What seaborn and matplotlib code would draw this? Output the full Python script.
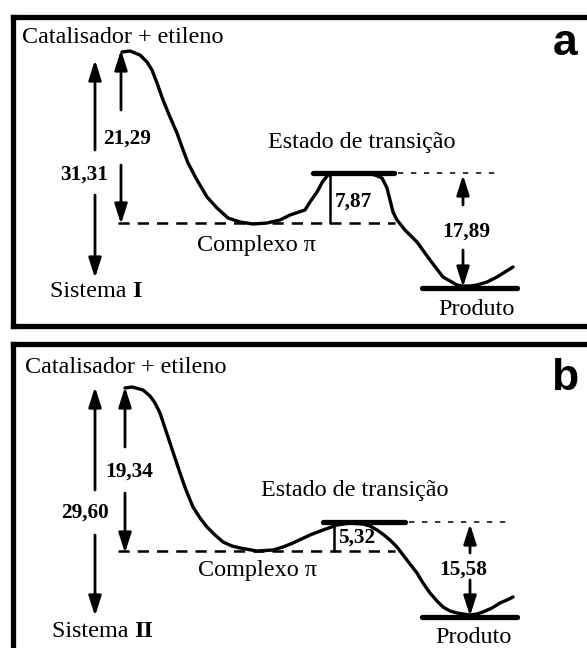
import matplotlib
matplotlib.use("Agg")
import matplotlib.pyplot as plt
import seaborn as sns
import numpy as np

# energy gaps (kcal/mol) shown on each diagram
barrier_a = {"complexo": 21.29, "total": 31.31, "ts": 7.87, "produto": 17.89}
barrier_b = {"complexo": 19.34, "total": 29.60, "ts": 5.32, "produto": 15.58}

state_labels = ["Catalisador + etileno", "Complexo \u03c0", "Estado de transi\u00e7\u00e3o", "Produto"]
system_names = ["I", "II"]
panel_tags = ["a", "b"]

# schematic reaction profile (image coordinates)
profile_a_x = [122, 130, 140, 147, 152, 157, 163, 170, 177, 182, 188, 197, 207, 217, 228, 240,
               253, 267, 280, 290, 305, 310, 317, 323, 328, 335, 345, 360, 370, 375, 382, 387,
               390, 393, 397, 405, 417, 430, 443, 457, 463, 470, 477, 487, 497, 505, 513]
profile_a_y = [52, 51, 55, 62, 70, 83, 100, 117, 133, 147, 163, 180, 197, 208, 218, 222,
               224, 223, 220, 215, 210, 202, 192, 181, 175, 173, 173, 173, 174, 175, 178, 188,
               200, 212, 220, 230, 242, 260, 277, 285, 286, 286, 285, 282, 277, 272, 267]

profile_b_x = [125, 132, 143, 150, 155, 160, 165, 170, 175, 180, 186, 193, 200, 207, 215, 223,
               232, 240, 257, 273, 283, 293, 310, 323, 337, 350, 363, 370, 377, 384, 390, 397,
               403, 410, 417, 423, 430, 437, 443, 450, 457, 463, 470, 477, 483, 492, 500, 507, 513]
profile_b_y = [388, 387, 390, 396, 403, 413, 428, 443, 458, 473, 490, 507, 518, 527, 535, 542,
               546, 548, 551, 550, 547, 543, 535, 530, 525, 523, 524, 526, 530, 535, 540, 547,
               555, 564, 573, 583, 593, 601, 607, 611, 613, 614, 615, 614, 612, 608, 603, 600, 597]


def fmt(v):
    return f"{v:.2f}".replace(".", ",")


def arrow(ax, x, y_tail, y_head):
    ax.annotate("", xy=(x, y_head), xytext=(x, y_tail),
                arrowprops=dict(arrowstyle="-|>,head_length=1.0,head_width=0.32",
                                mutation_scale=12, lw=2, color="black",
                                shrinkA=0, shrinkB=0))


sns.set_theme(style="white")
plt.rcParams["font.family"] = ["Liberation Serif", "DejaVu Serif"]

fig = plt.figure(figsize=(5.87, 6.48), dpi=100)
ax = fig.add_axes([0, 0, 1, 1])
ax.set_xlim(0, 587)
ax.set_ylim(648, 0)
ax.axis("off")

serif = dict(family=["Liberation Serif", "DejaVu Serif"], fontsize=17.4, color="black")
num = dict(family=["Liberation Serif", "DejaVu Serif"], fontsize=15.3, fontweight="bold", color="black")

# layout of each panel (image coordinates)
layout = [
    dict(frame_top=17, frame_bottom=326, cplx=223, ts=173, prod=288,
         ts_bar=(313, 394), ts_vline=330, prod_bar=(422, 517), ts_dot_end=500, arrow_x=463,
         cat_xy=(22, 43), sys_xy=(50, 297), cplx_xy=(197, 251), ts_xy=(268, 148), prod_xy=(438, 315),
         tag_y=55,
         big=dict(x=95, up=(150, 60), lab=(84, 180), down=(195, 278)),
         small=dict(x=121, up=(110, 50), lab=(127, 144), down=(165, 224)),
         ts_lab=(335, 207), pr=dict(up=(205, 175), lab=(466, 237), down=(250, 287))),
    dict(frame_top=344, frame_bottom=None, cplx=551, ts=522, prod=617,
         ts_bar=(323, 405), ts_vline=334, prod_bar=(422, 517), ts_dot_end=510, arrow_x=470,
         cat_xy=(25, 373), sys_xy=(52, 637), cplx_xy=(198, 576), ts_xy=(261, 496), prod_xy=(435, 643),
         tag_y=390,
         big=dict(x=95, up=(490, 387), lab=(85, 518), down=(535, 616)),
         small=dict(x=125, up=(447, 387), lab=(129, 477), down=(493, 553)),
         ts_lab=(338, 543), pr=dict(up=(553, 524), lab=(463, 575), down=(580, 616))),
]

profiles = [(profile_a_x, profile_a_y), (profile_b_x, profile_b_y)]
barriers = [barrier_a, barrier_b]

for i, L in enumerate(layout):
    px, py = profiles[i]
    e = barriers[i]

    # frame
    ax.plot([12.5, 12.5], [L["frame_top"], L["frame_bottom"] or 660], color="black", lw=3.8,
            solid_capstyle="projecting")
    ax.plot([12.5, 600], [L["frame_top"], L["frame_top"]], color="black", lw=3.8,
            solid_capstyle="projecting")
    if L["frame_bottom"]:
        ax.plot([12.5, 600], [L["frame_bottom"], L["frame_bottom"]], color="black", lw=3.8,
                solid_capstyle="projecting")

    # reaction profile
    sns.lineplot(x=px, y=py, sort=False, ax=ax, color="black", lw=2.4, estimator=None,
                 solid_joinstyle="round", solid_capstyle="round")

    # levels
    ax.plot([118, 395], [L["cplx"], L["cplx"]], color="black", lw=1.8, dashes=(4.5, 3.2))
    ax.plot(L["ts_bar"], [L["ts"], L["ts"]], color="black", lw=3.8)
    ax.plot([L["ts_bar"][1] + 4, L["ts_dot_end"]], [L["ts"], L["ts"]], color="black", lw=1.1,
            dashes=(3.5, 5))
    ax.plot(L["prod_bar"], [L["prod"], L["prod"]], color="black", lw=3.8)
    ax.plot([L["ts_vline"], L["ts_vline"]], [L["ts"], L["cplx"]], color="black", lw=1.8)

    # arrows
    for key in ("big", "small"):
        a = L[key]
        arrow(ax, a["x"], a["up"][0], a["up"][1])
        arrow(ax, a["x"], a["down"][0], a["down"][1])
    arrow(ax, L["arrow_x"], L["pr"]["up"][0], L["pr"]["up"][1])
    arrow(ax, L["arrow_x"], L["pr"]["down"][0], L["pr"]["down"][1])

    # numbers
    ax.text(*L["big"]["lab"], fmt(e["total"]), ha="center", va="baseline", **num)
    ax.text(*L["small"]["lab"], fmt(e["complexo"]), ha="center", va="baseline", **num)
    ax.text(*L["ts_lab"], fmt(e["ts"]), ha="left", va="baseline", **num)
    ax.text(*L["pr"]["lab"], fmt(e["produto"]), ha="center", va="baseline", **num)

    # state labels
    ax.text(*L["cat_xy"], state_labels[0], ha="left", va="baseline", **serif)
    ax.text(*L["cplx_xy"], state_labels[1], ha="left", va="baseline", **serif)
    ax.text(*L["ts_xy"], state_labels[2], ha="left", va="baseline", **serif)
    ax.text(*L["prod_xy"], state_labels[3], ha="left", va="baseline", **serif)
    t = ax.text(*L["sys_xy"], "Sistema ", ha="left", va="baseline", **serif)
    fig.canvas.draw()
    bb = t.get_window_extent().transformed(ax.transData.inverted())
    ax.text(bb.x1, L["sys_xy"][1], system_names[i], ha="left", va="baseline",
            family=["Liberation Serif"], fontsize=17.4, fontweight="bold", color="black")

    ax.text(578, L["tag_y"], panel_tags[i], ha="right", va="baseline",
            family=["Liberation Sans", "DejaVu Sans"], fontsize=32, fontweight="bold", color="black")

fig.savefig("out.png", dpi=100)
